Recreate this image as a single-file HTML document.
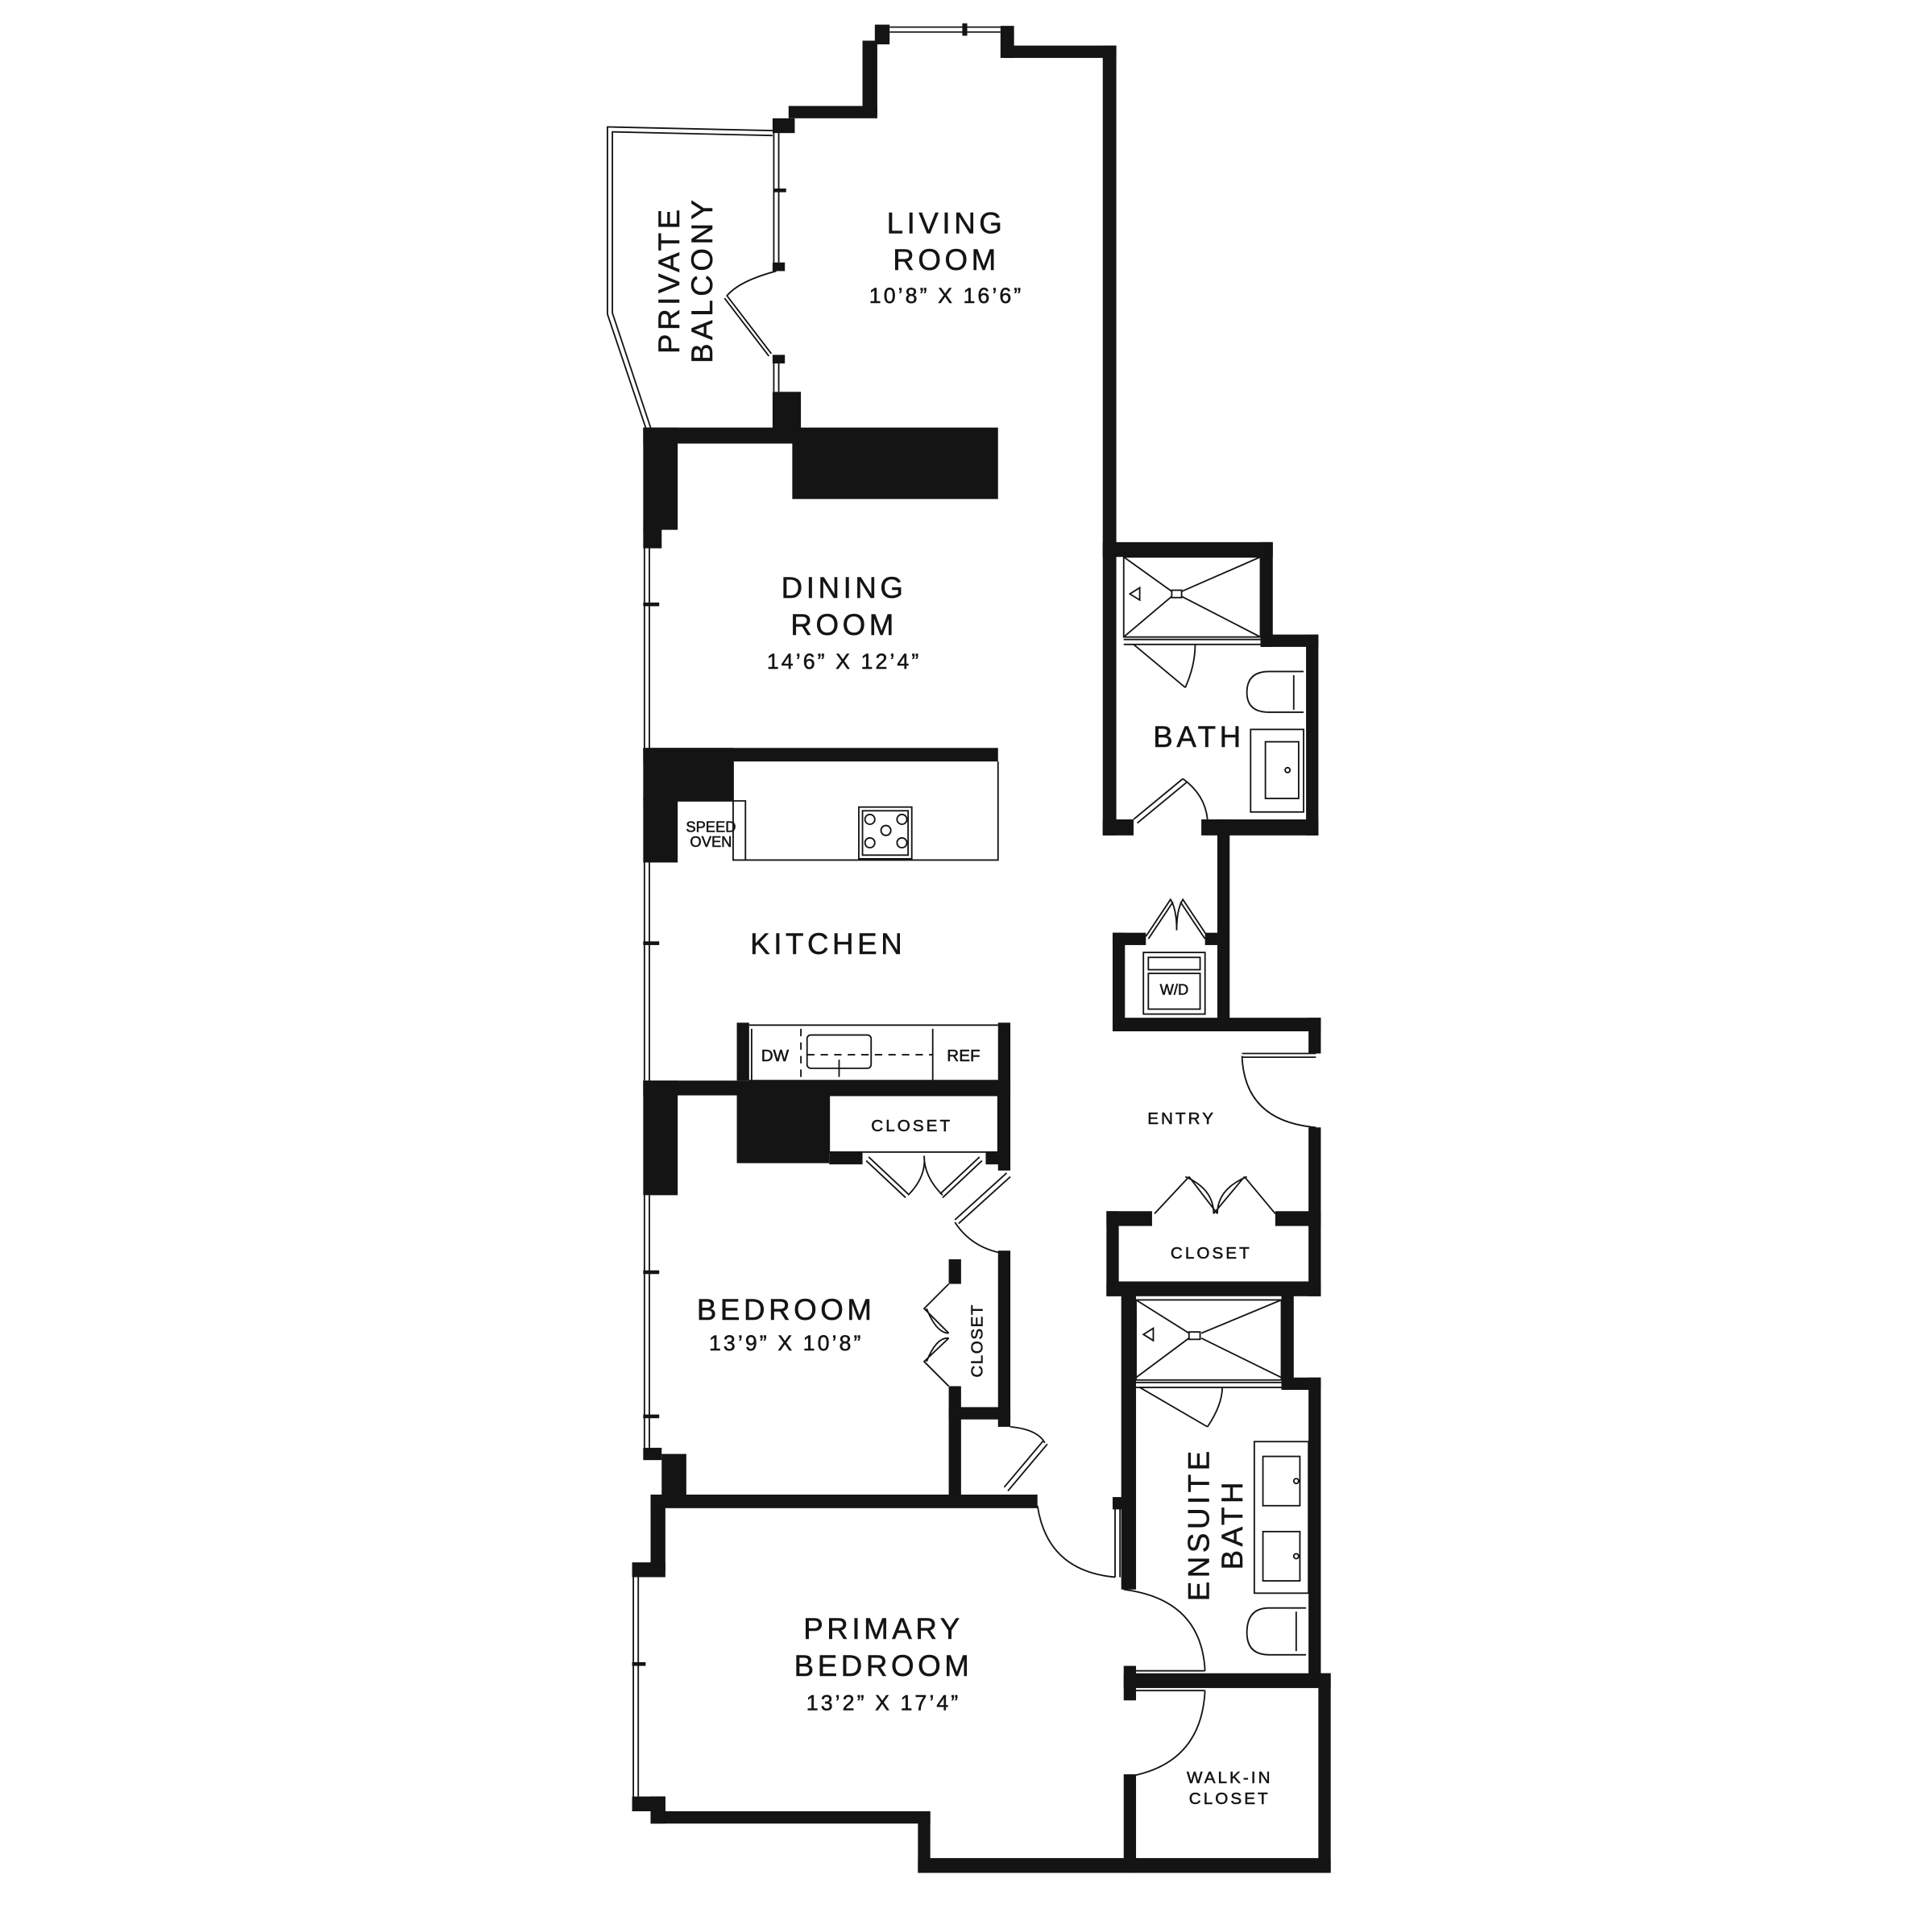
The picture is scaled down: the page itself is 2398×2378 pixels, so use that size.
<!DOCTYPE html>
<html><head><meta charset="utf-8"><style>
html,body{margin:0;padding:0;background:#fff;}
svg{display:block;}
text{font-family:"Liberation Sans",sans-serif;fill:#141414;text-anchor:middle;dominant-baseline:central;stroke:#141414;stroke-width:0.35;}
.l{font-size:24px;letter-spacing:3px;}
.d{font-size:17.5px;letter-spacing:2px;}
.s{font-size:13.5px;letter-spacing:2px;}
.xs{font-size:12px;}
</style></head><body>
<svg width="2398" height="2378" viewBox="0 0 1568 1555" xmlns="http://www.w3.org/2000/svg">
<g fill="#141414">
<rect x="895" y="37" width="11" height="641"/>
<rect x="815" y="37" width="91" height="10"/>
<rect x="812" y="21" width="11" height="26"/>
<rect x="710" y="20" width="12" height="16"/>
<rect x="700" y="33" width="12" height="60"/>
<rect x="640" y="86" width="72" height="10"/>
<rect x="627" y="96" width="18" height="12"/>
<rect x="781" y="19" width="4" height="10"/>
<rect x="627" y="213" width="10" height="7"/>
<rect x="627" y="288" width="10" height="7"/>
<rect x="627" y="318" width="23" height="32"/>
<rect x="628" y="153" width="10" height="3"/>
<rect x="522" y="347" width="128" height="13"/>
<rect x="643" y="347" width="167" height="58"/>
<rect x="522" y="347" width="28" height="83"/>
<rect x="522" y="428" width="15" height="17"/>
<rect x="522" y="489" width="13" height="3"/>
<rect x="522" y="607" width="288" height="11"/>
<rect x="522" y="607" width="73" height="43"/>
<rect x="522" y="648" width="28" height="52"/>
<rect x="522" y="764" width="13" height="3"/>
<rect x="598" y="830" width="10" height="47"/>
<rect x="810" y="830" width="10" height="120"/>
<rect x="522" y="877" width="298" height="12"/>
<rect x="522" y="877" width="28" height="93"/>
<rect x="598" y="885" width="75" height="59"/>
<rect x="673" y="935" width="27" height="10"/>
<rect x="800" y="935" width="12" height="10"/>
<rect x="810" y="1015" width="10" height="137"/>
<rect x="770" y="1022" width="10" height="20"/>
<rect x="770" y="1125" width="10" height="90"/>
<rect x="770" y="1142" width="50" height="10"/>
<rect x="810" y="1150" width="10" height="8"/>
<rect x="522" y="1031" width="13" height="3"/>
<rect x="522" y="1148" width="13" height="3"/>
<rect x="522" y="1175" width="15" height="10"/>
<rect x="537" y="1180" width="20" height="37"/>
<rect x="528" y="1213" width="314" height="11"/>
<rect x="528" y="1213" width="12" height="62"/>
<rect x="513" y="1268" width="27" height="12"/>
<rect x="513" y="1458" width="27" height="12"/>
<rect x="528" y="1458" width="12" height="22"/>
<rect x="528" y="1470" width="227" height="10"/>
<rect x="745" y="1470" width="10" height="50"/>
<rect x="745" y="1508" width="335" height="12"/>
<rect x="513" y="1349" width="11" height="3"/>
<rect x="903" y="1215" width="9" height="10"/>
<rect x="895" y="440" width="138" height="12"/>
<rect x="1023" y="440" width="10" height="85"/>
<rect x="1023" y="515" width="47" height="10"/>
<rect x="1060" y="515" width="10" height="163"/>
<rect x="895" y="665" width="25" height="13"/>
<rect x="975" y="665" width="95" height="13"/>
<rect x="988" y="665" width="10" height="172"/>
<rect x="903" y="757" width="10" height="80"/>
<rect x="903" y="757" width="27" height="10"/>
<rect x="978" y="757" width="12" height="10"/>
<rect x="903" y="826" width="169" height="11"/>
<rect x="1062" y="826" width="10" height="29"/>
<rect x="1062" y="915" width="10" height="137"/>
<rect x="898" y="983" width="37" height="12"/>
<rect x="1035" y="983" width="37" height="12"/>
<rect x="898" y="983" width="10" height="69"/>
<rect x="898" y="1040" width="174" height="12"/>
<rect x="910" y="1048" width="12" height="242"/>
<rect x="1040" y="1048" width="10" height="80"/>
<rect x="1040" y="1118" width="32" height="10"/>
<rect x="1062" y="1118" width="10" height="250"/>
<rect x="912" y="1358" width="168" height="12"/>
<rect x="912" y="1352" width="10" height="28"/>
<rect x="1070" y="1358" width="10" height="162"/>
<rect x="912" y="1440" width="10" height="80"/>
</g>
<g fill="none" stroke="#141414" stroke-width="1.2">
<path d="M722 22H812M722 26H812"/>
<path d="M628 108V213M632 108V213M628 295V318M632 295V318"/>
<path d="M523 445V607M527 445V607M523 700V877M527 700V877M523 970V1175M527 970V1175M514 1280V1458M518 1280V1458"/>
<path d="M627 106L493 103V255L525 350M627 110L497 107V254L529 350"/>
<path d="M630 220Q600 228 590 240L626 287M588 242L624 289"/>
<path d="M595 618V698H810V618M550 650H605V698"/>
<rect x="697" y="655" width="43" height="42"/><rect x="700" y="658" width="37" height="36"/>
<circle cx="706" cy="665" r="4"/><circle cx="732" cy="665" r="4"/><circle cx="719" cy="674" r="4"/><circle cx="706" cy="684" r="4"/><circle cx="732" cy="684" r="4"/>
<path d="M608 832H810M608 877H810M757 835V877M610 835V877"/>
<path d="M650 835V877M655 856H757" stroke-dasharray="6 5"/>
<rect x="655" y="840" width="52" height="27" rx="3"/>
<path d="M681 860V874"/>
<rect x="673" y="889" width="137" height="46"/>
<path d="M703 942L735 972M705 939L737 969M797 942L765 972M795 939L763 969M737 970Q752 955 750 938M765 970Q750 955 750 938"/>
<path d="M817 952L775 990M820 955L778 993M775 992Q790 1015 820 1018"/>
<path d="M770 1042L750 1062L770 1082M770 1086L750 1105L770 1125M752 1062Q760 1082 770 1082M752 1105Q760 1085 770 1086"/>
<path d="M818 1210L850 1172M815 1207L847 1169M820 1158Q842 1160 848 1171"/>
<path d="M842 1222Q850 1275 905 1280M905 1222V1280M909 1222V1280"/>
<path d="M912 1290Q975 1298 978 1356M922 1356H978M922 1372H978M978 1372Q975 1432 915 1442"/>
<rect x="912" y="452" width="111" height="65"/>
<path d="M912 452L951 480M1023 452L959 480M912 517L951 484M1023 517L959 484"/>
<rect x="951" y="479" width="8" height="6"/>
<path d="M925 477L917 482L925 487Z"/>
<path d="M912 519H1023M912 523H1023"/>
<path d="M920 523L962 558M962 558Q970 540 970 523"/>
<path d="M1058 545H1030Q1012 545 1012 562Q1012 578 1030 578H1058M1050 548V576"/>
<rect x="1015" y="592" width="43" height="67"/><rect x="1027" y="602" width="27" height="46"/>
<circle cx="1045" cy="625" r="2"/>
<path d="M920 665L960 632M923 668L963 635M960 632Q978 645 980 665"/>
<path d="M930 760L950 730Q955 738 955 755M980 760L960 730Q955 738 955 755M932 762L952 732M978 762L958 732"/>
<rect x="928" y="773" width="50" height="50"/><rect x="932" y="777" width="42" height="10"/><rect x="932" y="790" width="42" height="29"/>
<path d="M1008 855H1068M1008 858H1068M1008 857Q1010 910 1068 915"/>
<path d="M937 985L965 955M988 985L965 955M962 955Q985 965 985 985M1035 985L1010 955M985 985L1010 955M1012 955Q988 965 988 985"/>
<rect x="922" y="1055" width="118" height="65"/>
<path d="M922 1055L965 1082M1040 1055L975 1082M922 1118L965 1086M1040 1118L975 1086"/>
<rect x="965" y="1081" width="9" height="6"/>
<path d="M936 1078L928 1083L936 1088Z"/>
<path d="M922 1122H1040M922 1126H1040M925 1126L980 1158M980 1158Q992 1140 992 1126"/>
<rect x="1018" y="1170" width="44" height="123"/>
<rect x="1025" y="1182" width="30" height="40"/><rect x="1025" y="1243" width="30" height="40"/>
<circle cx="1052" cy="1202" r="2"/><circle cx="1052" cy="1263" r="2"/>
<path d="M1060 1305H1030Q1012 1305 1012 1325Q1012 1343 1030 1343H1060M1052 1308V1340"/>
</g>
<text class="l" x="768" y="181">LIVING</text>
<text class="l" x="768" y="211">ROOM</text>
<text class="d" x="768" y="240">10’8” X 16’6”</text>
<text class="l" transform="translate(543 227) rotate(-90)">PRIVATE</text>
<text class="l" transform="translate(570 227) rotate(-90)">BALCONY</text>
<text class="l" x="685" y="477">DINING</text>
<text class="l" x="685" y="507">ROOM</text>
<text class="d" x="685" y="537">14’6” X 12’4”</text>
<text class="l" x="672" y="766">KITCHEN</text>
<text class="l" x="973" y="598">BATH</text>
<text class="l" x="638" y="1063">BEDROOM</text>
<text class="d" x="638" y="1090">13’9” X 10’8”</text>
<text class="l" x="717" y="1322">PRIMARY</text>
<text class="l" x="717" y="1352">BEDROOM</text>
<text class="d" x="717" y="1382">13’2” X 17’4”</text>
<text class="l" transform="translate(973 1237) rotate(-90)">ENSUITE</text>
<text class="l" transform="translate(1000 1237) rotate(-90)">BATH</text>
<text class="s" x="740" y="914">CLOSET</text>
<text class="s" x="959" y="908">ENTRY</text>
<text class="s" x="983" y="1017">CLOSET</text>
<text class="s" transform="translate(793 1088) rotate(-90)" style="letter-spacing:1px">CLOSET</text>
<text class="s" x="998" y="1443">WALK-IN</text>
<text class="s" x="998" y="1460">CLOSET</text>
<text class="xs" x="577" y="671">SPEED</text>
<text class="xs" x="577" y="683">OVEN</text>
<text class="s" x="629" y="857" style="letter-spacing:0">DW</text>
<text class="s" x="782" y="857" style="letter-spacing:0">REF</text>
<text class="xs" x="953" y="803">W/D</text>
</svg>
</body></html>
